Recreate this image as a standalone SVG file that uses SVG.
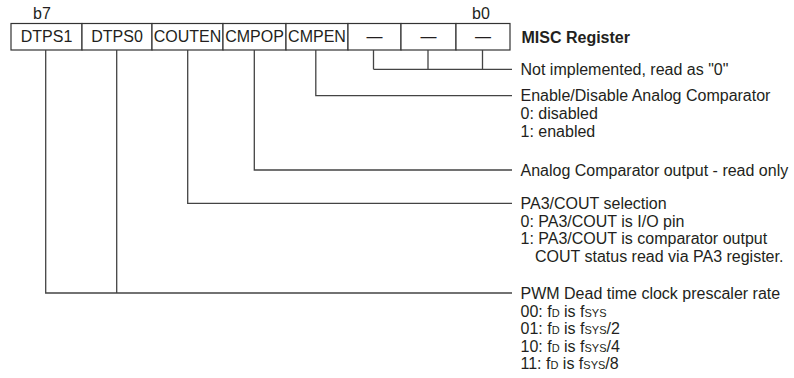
<svg xmlns="http://www.w3.org/2000/svg" width="794" height="378" viewBox="0 0 794 378">
<style>
.cell{fill:#fff;stroke:#333;stroke-width:1.2}
.t{font-family:"Liberation Sans",Arial,sans-serif;font-size:16px;fill:#231f20}
.c{text-anchor:middle}
.b{font-weight:bold}
.s{font-size:11px}
.con{fill:none;stroke:#444;stroke-width:1.3}
</style>
<rect width="794" height="378" fill="#fff"/>
<g id="bit-labels">
<text class="t c" x="42" y="19">b7</text>
<text class="t c" x="481" y="19">b0</text>
</g>
<g id="DTPS1"><rect class="cell" x="11" y="23.5" width="71" height="26.5"/><text class="t c" x="46.5" y="42.3">DTPS1</text></g>
<g id="DTPS0"><rect class="cell" x="82" y="23.5" width="70" height="26.5"/><text class="t c" x="117" y="42.3">DTPS0</text></g>
<g id="COUTEN"><rect class="cell" x="152" y="23.5" width="71" height="26.5"/><text class="t c" x="187.5" y="42.3">COUTEN</text></g>
<g id="CMPOP"><rect class="cell" x="223" y="23.5" width="63" height="26.5"/><text class="t c" x="254.5" y="42.3">CMPOP</text></g>
<g id="CMPEN"><rect class="cell" x="286" y="23.5" width="62" height="26.5"/><text class="t c" x="317" y="42.3">CMPEN</text></g>
<g id="bit2"><rect class="cell" x="348" y="23.5" width="53" height="26.5"/><text class="t c" x="374.5" y="42.3">—</text></g>
<g id="bit1"><rect class="cell" x="401" y="23.5" width="55" height="26.5"/><text class="t c" x="428.5" y="42.3">—</text></g>
<g id="bit0"><rect class="cell" x="456" y="23.5" width="54" height="26.5"/><text class="t c" x="483" y="42.3">—</text></g>
<g id="title"><text class="t b" x="521.5" y="42.5">MISC Register</text></g>
<g id="connectors">
<path class="con" d="M373.5 50V69.3M428 50V69.3M482.5 50V69.3M373.5 69.3H512"/>
<path class="con" d="M315.8 50V95.7H512"/>
<path class="con" d="M254.3 50V170H512"/>
<path class="con" d="M187.7 50V203.3H512"/>
<path class="con" d="M45.7 50V293H512M116.7 50V293"/>
</g>
<g id="desc-unimpl"><text class="t" x="520.5" y="75">Not implemented, read as "0"</text></g>
<g id="desc-cmpen">
<text class="t" x="520.5" y="101.4">Enable/Disable Analog Comparator</text>
<text class="t" x="520.5" y="119">0: disabled</text>
<text class="t" x="520.5" y="136.5">1: enabled</text>
</g>
<g id="desc-cmpop"><text class="t" x="520.5" y="175.7">Analog Comparator output - read only</text></g>
<g id="desc-couten">
<text class="t" x="520.5" y="209">PA3/COUT selection</text>
<text class="t" x="520.5" y="226.5">0: PA3/COUT is I/O pin</text>
<text class="t" x="520.5" y="244">1: PA3/COUT is comparator output</text>
<text class="t" x="535" y="261.5">COUT status read via PA3 register.</text>
</g>
<g id="desc-dtps">
<text class="t" x="520.5" y="299">PWM Dead time clock prescaler rate</text>
<text class="t" x="520.5" y="316.5">00: f<tspan class="s">D</tspan> is f<tspan class="s">SYS</tspan></text>
<text class="t" x="520.5" y="334">01: f<tspan class="s">D</tspan> is f<tspan class="s">SYS</tspan>/2</text>
<text class="t" x="520.5" y="351.5">10: f<tspan class="s">D</tspan> is f<tspan class="s">SYS</tspan>/4</text>
<text class="t" x="520.5" y="369">11: f<tspan class="s">D</tspan> is f<tspan class="s">SYS</tspan>/8</text>
</g>
</svg>
